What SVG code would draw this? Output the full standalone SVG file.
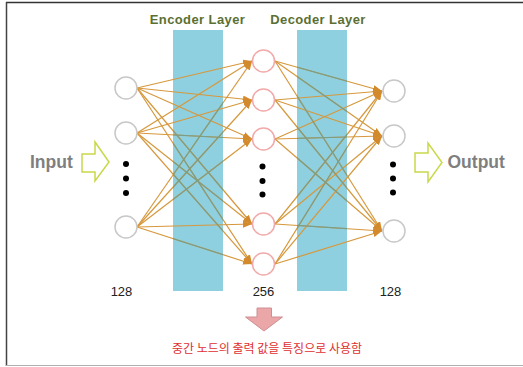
<svg xmlns="http://www.w3.org/2000/svg" width="523" height="367" viewBox="0 0 523 367">
  <style>
    .bar { fill: #8fd0e0; }
    .io { fill: #ffffff; stroke: #c8c8c8; stroke-width: 1.5; }
    .mid { fill: #ffffff; stroke: #f2a9a9; stroke-width: 1.5; }
    .dot { fill: #000000; }
    .wire { stroke: #d6983c; stroke-width: 1.2; fill: none; marker-end: url(#head); }
    .under { stroke: #7c9e86; stroke-width: 1.2; fill: none; }
    .layer { font-family: "Liberation Sans", Arial, sans-serif; font-weight: bold; font-size: 13px; fill: #5b6f33; text-anchor: middle; letter-spacing: 0.4px; }
    .io-label { font-family: "Liberation Sans", Arial, sans-serif; font-weight: bold; font-size: 17.5px; fill: #7f7f7f; }
    .count { font-family: "Liberation Sans", Arial, sans-serif; font-size: 13px; fill: #222222; text-anchor: middle; }
    .note { font-family: "Noto Sans CJK KR", "Noto Sans", sans-serif; font-size: 12px; fill: #e0302e; text-anchor: middle; }
    .hollow { fill: #ffffff; stroke: #c9d84a; stroke-width: 1.5; stroke-linejoin: miter; }
  </style>
  <defs>
    <marker id="head" markerUnits="userSpaceOnUse" markerWidth="9" markerHeight="7" refX="9" refY="3.5" orient="auto">
      <path d="M0,0 L9,3.5 L0,7 z" fill="#d28a2c"/>
    </marker>
    <clipPath id="barClip">
      <rect x="173" y="30" width="50" height="261"/>
      <rect x="297" y="30" width="50" height="261"/>
    </clipPath>
  </defs>

  <!-- frame -->
  <g id="frame">
    <line x1="6" y1="2.5" x2="523" y2="2.5" stroke="#333333" stroke-width="1.5"/>
    <line x1="6.5" y1="2" x2="6.5" y2="366" stroke="#444444" stroke-width="1.5"/>
    <line x1="6" y1="365.5" x2="523" y2="365.5" stroke="#b0b0b0" stroke-width="1"/>
  </g>

  <!-- layer bands -->
  <g id="encoder">
    <rect class="bar" x="173" y="30" width="50" height="261"/>
    <text class="layer" x="197.5" y="24">Encoder Layer</text>
  </g>
  <g id="decoder">
    <rect class="bar" x="297" y="30" width="50" height="261"/>
    <text class="layer" x="318" y="24">Decoder Layer</text>
  </g>

  <!-- connectors -->
  <g id="connectors">
    <!-- input layer to hidden layer -->
    <line class="wire" x1="137" y1="88" x2="252" y2="61"/>
    <line class="wire" x1="137" y1="88" x2="252" y2="100"/>
    <line class="wire" x1="137" y1="88" x2="252" y2="139"/>
    <line class="wire" x1="137" y1="88" x2="252" y2="224"/>
    <line class="wire" x1="137" y1="88" x2="252" y2="264"/>
    <line class="wire" x1="137" y1="133" x2="252" y2="61"/>
    <line class="wire" x1="137" y1="133" x2="252" y2="100"/>
    <line class="wire" x1="137" y1="133" x2="252" y2="139"/>
    <line class="wire" x1="137" y1="133" x2="252" y2="224"/>
    <line class="wire" x1="137" y1="133" x2="252" y2="264"/>
    <line class="wire" x1="137" y1="227" x2="252" y2="61"/>
    <line class="wire" x1="137" y1="227" x2="252" y2="100"/>
    <line class="wire" x1="137" y1="227" x2="252" y2="139"/>
    <line class="wire" x1="137" y1="227" x2="252" y2="224"/>
    <line class="wire" x1="137" y1="227" x2="252" y2="264"/>
    <!-- hidden layer to output layer -->
    <line class="wire" x1="275" y1="61" x2="382" y2="91"/>
    <line class="wire" x1="275" y1="61" x2="382" y2="136"/>
    <line class="wire" x1="275" y1="61" x2="382" y2="231"/>
    <line class="wire" x1="275" y1="100" x2="382" y2="91"/>
    <line class="wire" x1="275" y1="100" x2="382" y2="136"/>
    <line class="wire" x1="275" y1="100" x2="382" y2="231"/>
    <line class="wire" x1="275" y1="139" x2="382" y2="91"/>
    <line class="wire" x1="275" y1="139" x2="382" y2="136"/>
    <line class="wire" x1="275" y1="139" x2="382" y2="231"/>
    <line class="wire" x1="275" y1="224" x2="382" y2="91"/>
    <line class="wire" x1="275" y1="224" x2="382" y2="136"/>
    <line class="wire" x1="275" y1="224" x2="382" y2="231"/>
    <line class="wire" x1="275" y1="264" x2="382" y2="91"/>
    <line class="wire" x1="275" y1="264" x2="382" y2="136"/>
    <line class="wire" x1="275" y1="264" x2="382" y2="231"/>
    <!-- stretches that run behind the bands -->
    <g clip-path="url(#barClip)">
      <line class="under" x1="137" y1="88" x2="252" y2="224"/>
      <line class="under" x1="137" y1="88" x2="252" y2="264"/>
      <line class="under" x1="137" y1="133" x2="252" y2="139"/>
      <line class="under" x1="137" y1="133" x2="252" y2="224"/>
      <line class="under" x1="137" y1="133" x2="252" y2="264"/>
      <line class="under" x1="137" y1="227" x2="252" y2="61"/>
      <line class="under" x1="137" y1="227" x2="252" y2="100"/>
      <line class="under" x1="137" y1="227" x2="252" y2="139"/>
      <line class="under" x1="137" y1="227" x2="252" y2="264"/>
      <line class="under" x1="275" y1="61" x2="382" y2="91"/>
      <line class="under" x1="275" y1="61" x2="382" y2="136"/>
      <line class="under" x1="275" y1="61" x2="382" y2="231"/>
      <line class="under" x1="275" y1="100" x2="382" y2="231"/>
      <line class="under" x1="275" y1="139" x2="382" y2="136"/>
      <line class="under" x1="275" y1="139" x2="382" y2="231"/>
      <line class="under" x1="275" y1="224" x2="382" y2="91"/>
      <line class="under" x1="275" y1="224" x2="382" y2="231"/>
      <line class="under" x1="275" y1="264" x2="382" y2="91"/>
    </g>
  </g>

  <!-- input layer -->
  <g id="in1"><circle class="io" cx="126" cy="88" r="11"/></g>
  <g id="in2"><circle class="io" cx="126" cy="133" r="11"/></g>
  <g id="in-dots">
    <circle class="dot" cx="126" cy="164" r="3"/>
    <circle class="dot" cx="126" cy="178.5" r="3"/>
    <circle class="dot" cx="126" cy="193" r="3"/>
  </g>
  <g id="in3"><circle class="io" cx="126" cy="227" r="11"/></g>

  <!-- hidden layer -->
  <g id="h1"><circle class="mid" cx="263.5" cy="61" r="11"/></g>
  <g id="h2"><circle class="mid" cx="263.5" cy="100" r="11"/></g>
  <g id="h3"><circle class="mid" cx="263.5" cy="139" r="11"/></g>
  <g id="h-dots">
    <circle class="dot" cx="262.5" cy="166.5" r="3"/>
    <circle class="dot" cx="262.5" cy="181" r="3"/>
    <circle class="dot" cx="262.5" cy="194.5" r="3"/>
  </g>
  <g id="h4"><circle class="mid" cx="263.5" cy="224" r="11"/></g>
  <g id="h5"><circle class="mid" cx="263.5" cy="264" r="11"/></g>

  <!-- output layer -->
  <g id="out1"><circle class="io" cx="394" cy="91" r="11"/></g>
  <g id="out2"><circle class="io" cx="394" cy="136" r="11"/></g>
  <g id="out-dots">
    <circle class="dot" cx="393" cy="164.5" r="3"/>
    <circle class="dot" cx="393" cy="178.5" r="3"/>
    <circle class="dot" cx="393" cy="192.5" r="3"/>
  </g>
  <g id="out3"><circle class="io" cx="394" cy="231" r="11"/></g>

  <!-- input / output labels with hollow arrows -->
  <g id="input">
    <text class="io-label" x="30" y="168">Input</text>
    <path class="hollow" d="M82,154 H95 V142 L109,162 L95,181 V172 H82 Z"/>
  </g>
  <g id="output">
    <path class="hollow" d="M415,153 H428 V143 L442,162.5 L428,182 V172 H415 Z"/>
    <text class="io-label" x="447.5" y="168">Output</text>
  </g>

  <!-- layer sizes -->
  <g id="sizes">
    <text class="count" x="121.5" y="296">128</text>
    <text class="count" x="263.5" y="296">256</text>
    <text class="count" x="390.5" y="296">128</text>
  </g>

  <!-- feature extraction note -->
  <g id="feature">
    <path d="M257,308 H271.5 V317 H282.5 L264,331 L245.5,317 H257 Z" fill="#eba6a8" stroke="#cf8f92" stroke-width="1"/>
    <text class="note" x="267" y="353">중간 노드의 출력 값을 특징으로 사용함</text>
  </g>
</svg>
